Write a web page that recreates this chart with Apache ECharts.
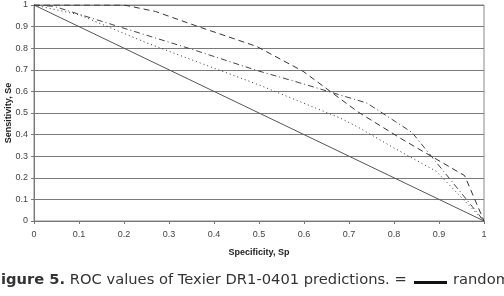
<!DOCTYPE html>
<html>
<head>
    <meta charset="utf-8">
    <title>ROC Texier DR1-0401</title>
    <script src="https://cdn.jsdelivr.net/npm/echarts@6/dist/echarts.min.js"></script>
    <style>
        html, body { margin: 0; padding: 0; background: #fff; }
    </style>
</head>
<body>
<div id="chart" style="width: 504px; height: 296px;"></div>
<script>
    // tick labels
    var xTicks = ['0', '0.1', '0.2', '0.3', '0.4', '0.5', '0.6', '0.7', '0.8', '0.9', '1'];
    var yTicks = ['0', '0.1', '0.2', '0.3', '0.4', '0.5', '0.6', '0.7', '0.8', '0.9', '1'];

    // specificity (x) / sensitivity (y) per curve
    var randomSp = [0, 1];
    var randomSe = [1, 0];

    var dashSp = [0, 0.2, 0.27, 0.365, 0.495, 0.598, 0.72, 0.82, 0.957, 1];
    var dashSe = [1, 1, 0.97, 0.90, 0.808, 0.693, 0.505, 0.376, 0.21, 0];

    var dashDotSp = [0, 0.044, 0.162, 0.258, 0.354, 0.495, 0.59, 0.74, 0.84, 1];
    var dashDotSe = [1, 0.994, 0.917, 0.855, 0.793, 0.697, 0.64, 0.546, 0.41, 0];

    var dotSp = [0, 0.1, 0.25, 0.37, 0.5, 0.68, 0.724, 0.8, 0.894, 1];
    var dotSe = [1, 0.955, 0.825, 0.731, 0.63, 0.477, 0.43, 0.338, 0.23, 0];

    function pairs(xs, ys) {
        var out = [];
        for (var i = 0; i < xs.length; i++) {
            out.push([xs[i], ys[i]]);
        }
        return out;
    }

    function curve(name, xs, ys, dash, color) {
        return {
            name: name,
            type: 'line',
            data: pairs(xs, ys),
            symbol: 'none',
            silent: true,
            lineStyle: {width: 1, color: color, type: dash}
        };
    }

    var myChart = echarts.init(document.getElementById('chart'));
    var option = {
        animation: false,
        grid: {
            left: 34,
            right: 20,
            top: 5,
            height: 216,
            outerBoundsMode: 'none',
            containLabel: false,
            show: true,
            borderColor: '#8a8a8a',
            borderWidth: 1
        },
        xAxis: {
            type: 'value',
            min: 0,
            max: 1,
            interval: 0.1,
            name: 'Specificity, Sp',
            nameLocation: 'middle',
            nameGap: 27,
            nameMoveOverlap: false,
            nameTextStyle: {fontFamily: 'Liberation Sans', fontSize: 9, fontWeight: 'bold', color: '#222'},
            axisLine: {show: true, lineStyle: {color: '#777'}},
            axisTick: {show: true, length: 3, lineStyle: {color: '#777'}},
            axisLabel: {
                fontFamily: 'Liberation Sans', fontSize: 9, color: '#444', margin: 9,
                formatter: function (v) { return xTicks[Math.round(v * 10)]; }
            },
            splitLine: {show: false}
        },
        yAxis: {
            type: 'value',
            min: 0,
            max: 1,
            interval: 0.1,
            name: 'Sensitivity, Se',
            nameLocation: 'middle',
            nameGap: 21,
            nameMoveOverlap: false,
            nameTextStyle: {fontFamily: 'Liberation Sans', fontSize: 9, fontWeight: 'bold', color: '#222'},
            axisLine: {show: true, lineStyle: {color: '#777'}},
            axisTick: {show: true, length: 3, lineStyle: {color: '#777'}},
            axisLabel: {
                fontFamily: 'Liberation Sans', fontSize: 9, color: '#444', margin: 6,
                formatter: function (v) { return yTicks[Math.round(v * 10)]; }
            },
            splitLine: {show: true, lineStyle: {color: '#7a7a7a', width: 1}}
        },
        series: [
            curve('random', randomSp, randomSe, 'solid', '#555'),
            curve('dashed', dashSp, dashSe, [6, 4], '#333'),
            curve('dashdot', dashDotSp, dashDotSe, [6, 3, 1, 3], '#444'),
            curve('dotted', dotSp, dotSe, [1, 3], '#333')
        ],
        graphic: [
            {
                type: 'text',
                left: -9,
                top: 273,
                style: {
                    text: '{b|Figure 5.} ROC values of Texier DR1-0401 predictions. =',
                    fontFamily: 'DejaVu Sans',
                    fontSize: 14.7,
                    fill: '#333',
                    rich: {
                        b: {fontFamily: 'DejaVu Sans', fontSize: 14.7, fontWeight: 'bold', fill: '#333'}
                    }
                }
            },
            {
                type: 'rect',
                shape: {x: 414, y: 281, width: 33, height: 3},
                style: {fill: '#111'}
            },
            {
                type: 'text',
                left: 453,
                top: 273,
                style: {text: 'random', fontFamily: 'DejaVu Sans', fontSize: 14.7, fill: '#333'}
            }
        ]
    };
    myChart.setOption(option);
</script>
</body>
</html>
